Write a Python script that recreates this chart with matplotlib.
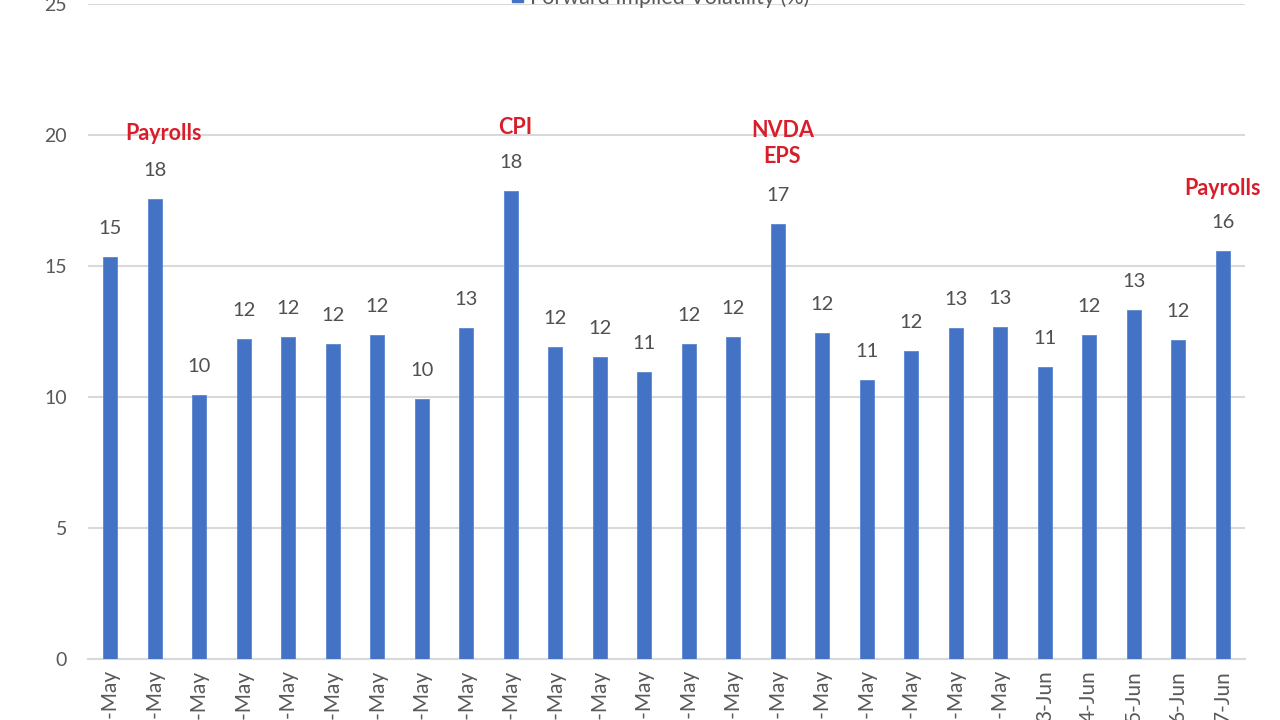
import matplotlib
matplotlib.use("Agg")
import matplotlib.pyplot as plt

plt.rcParams['font.family'] = ['Lato', 'DejaVu Sans']

dates = ["2-May", "3-May", "6-May", "7-May", "8-May", "9-May", "10-May", "13-May",
         "14-May", "15-May", "16-May", "17-May", "20-May", "21-May", "22-May", "23-May",
         "24-May", "28-May", "29-May", "30-May", "31-May", "3-Jun", "4-Jun", "5-Jun",
         "6-Jun", "7-Jun"]
vol = [15.36, 17.56, 10.08, 12.23, 12.29, 12.02, 12.35, 9.92, 12.62, 17.86,
       11.92, 11.54, 10.94, 12.02, 12.29, 16.60, 12.43, 10.65, 11.76, 12.62,
       12.68, 11.16, 12.37, 13.32, 12.18, 15.58]
event_idx = [1, 9, 15, 25]
event_txt = ["Payrolls", "CPI", "NVDA\nEPS", "Payrolls"]
event_y = [20.04, 20.3, 19.66, 17.94]
event_dx = [0.2, 0.1, 0.1, 0.0]
legend_label = "Forward Implied Volatility (%)"

fig = plt.figure(figsize=(12.8, 7.2), dpi=100)
ax = fig.add_axes([88/1280, 1-659/720, (1245-88)/1280, (659-4)/720])

x = list(range(len(dates)))
ax.bar(x, vol, width=0.31, color="#4472C4", edgecolor="#5b86d0", linewidth=0.6, zorder=3)

for xi, v in zip(x, vol):
    ax.annotate(f"{round(v):d}", (xi, v), xytext=(0, 20.5), textcoords="offset points",
                ha="center", va="center", fontsize=14.5, color="#505050")

for xi, txt, yv, dx in zip(event_idx, event_txt, event_y, event_dx):
    ax.text(xi + dx, yv, txt, ha="center", va="center", fontsize=15.5, fontweight="bold",
            color="#d81e2a", linespacing=1.3)

ax.set_xlim(-0.5, len(dates) - 0.5)
ax.set_ylim(0, 25)
ax.set_yticks([0, 5, 10, 15, 20, 25])
ax.yaxis.grid(True, color="#d9d9d9", linewidth=1.5, zorder=0)
ax.set_axisbelow(True)
for s in ["top", "right", "left"]:
    ax.spines[s].set_visible(False)
ax.spines["bottom"].set_color("#d9d9d9")
ax.spines["bottom"].set_linewidth(1.5)
ax.tick_params(axis="y", length=0, pad=15, labelsize=14, labelcolor="#595959")
ax.tick_params(axis="x", length=0, pad=8, labelsize=15, labelcolor="#595959")
ax.set_xticks(x)
ax.set_xticklabels(dates, rotation=90, ha="center", va="top")

# legend at the top, mostly cut off by the figure edge
fig.patches.append(plt.Rectangle((512/1280, 1-2/720), 11/1280, 11/720,
                                 transform=fig.transFigure, color="#4472C4"))
fig.text(530/1280, 1.003, legend_label, ha="left", va="center", fontsize=15.5,
         color="#595959")

fig.savefig("out.png", dpi=100)
